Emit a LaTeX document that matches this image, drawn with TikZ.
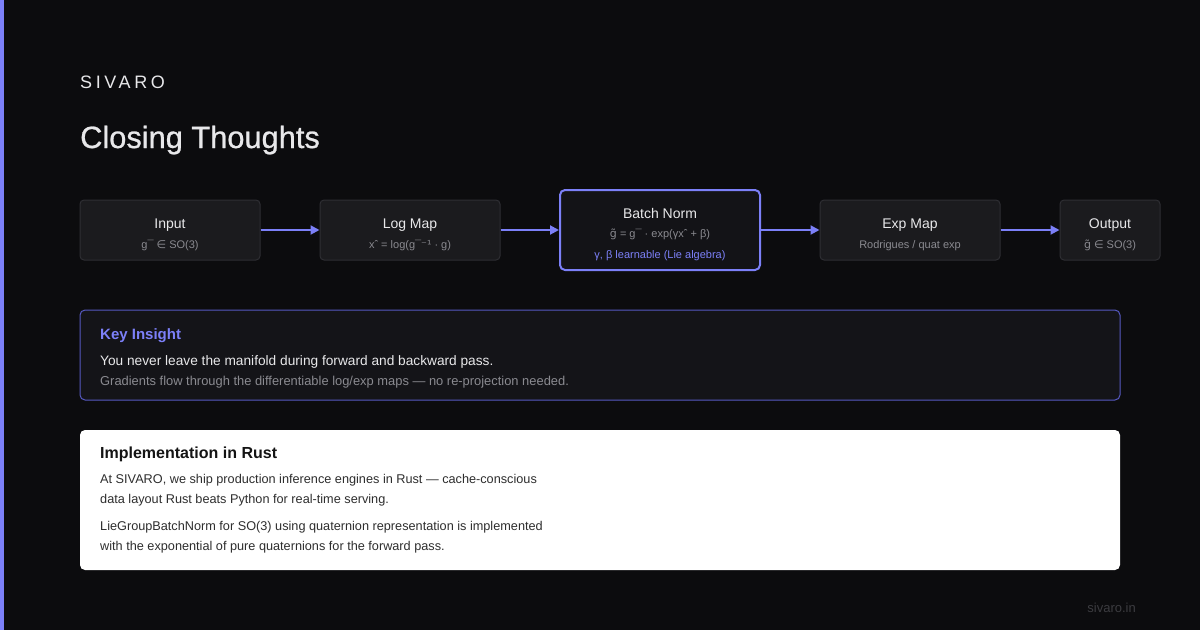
\documentclass[tikz,border=0pt]{standalone}
\usepackage{fontspec}
\setmainfont{Liberation Sans}
\newfontfamily\dv{DejaVu Sans}
\newfontfamily\titlefont[FakeBold=0.8]{Liberation Sans}
\usetikzlibrary{arrows.meta}
\definecolor{bg}{HTML}{0C0C0E}
\definecolor{accent}{HTML}{7C80F8}
\definecolor{boxfill}{HTML}{1B1B1E}
\definecolor{boxline}{HTML}{2E2E33}
\definecolor{bnfill}{HTML}{131317}
\definecolor{kifill}{HTML}{141418}
\definecolor{kiline}{HTML}{5659C0}
\definecolor{lighttext}{HTML}{E8E8EA}
\definecolor{graytext}{HTML}{8A8A90}
\definecolor{darktext}{HTML}{141414}
\definecolor{bodytext}{HTML}{2E2E2E}
\definecolor{footer}{HTML}{3C3C40}
\tikzset{
  stagebox/.style={draw=boxline, line width=1pt, fill=boxfill, rounded corners=4pt, minimum height=60pt, inner sep=0pt},
  txt/.style={inner sep=0pt, anchor=base},
  ttl/.style={txt, text=lighttext, font=\fontsize{14}{16}\selectfont},
  sub/.style={txt, text=graytext, font=\fontsize{11}{13}\selectfont},
  body/.style={txt, anchor=base west, text=bodytext, font=\fontsize{12.7}{14}\selectfont},
  flow/.style={draw=accent, line width=2pt, -{Triangle[length=9pt,width=9pt]}},
}
\begin{document}
\begin{tikzpicture}[x=1pt,y=-1pt]
\useasboundingbox (0,0) rectangle (1200,630);
\fill[bg] (0,0) rectangle (1200,630);
\fill[accent] (0,0) rectangle (4,630);

\node[txt, anchor=base west, text=lighttext, font=\fontsize{18}{20}\selectfont\addfontfeature{LetterSpace=20}] (brand) at (80,88) {SIVARO};
\node[txt, anchor=base west, text=lighttext, font=\titlefont\fontsize{30.8}{34}\selectfont] (title) at (80,148) {Closing Thoughts};

% stages
\node[stagebox, minimum width=180pt] (in) at (170,230) {};
\node[stagebox, minimum width=180pt] (lm) at (410,230) {};
\node[draw=accent, line width=2pt, fill=bnfill, rounded corners=5pt, minimum width=200pt, minimum height=80pt, inner sep=0pt] (bn) at (660,230) {};
\node[stagebox, minimum width=180pt] (em) at (910,230) {};
\node[stagebox, minimum width=100pt] (out) at (1110,230) {};

\node[ttl] (inT) at (170,228) {Input};
\node[sub] (inS) at (170,248) {g¯ {\dv ∈} SO(3)};
\node[ttl] (lmT) at (410,228) {Log Map};
\node[sub] (lmS) at (410,248) {xˆ = log(g¯{\dv ⁻¹} · g)};
\node[ttl] (bnT) at (660,218) {Batch Norm};
\node[sub] (bnS) at (660,237) {{\dv g̃} = g¯ · exp(γxˆ + β)};
\node[sub, text=accent] (bnL) at (660,258) {γ, β learnable (Lie algebra)};
\node[ttl] (emT) at (910,228) {Exp Map};
\node[sub] (emS) at (910,248) {Rodrigues / quat exp};
\node[ttl] (outT) at (1110,228) {Output};
\node[sub] (outS) at (1110,248) {{\dv g̃} {\dv ∈} SO(3)};

\draw[flow] (in.east) -- (lm.west);
\draw[flow] (lm.east) -- (bn.west);
\draw[flow] (bn.east) -- (em.west);
\draw[flow] (em.east) -- (out.west);

% key insight
\node[draw=kiline, line width=1pt, fill=kifill, rounded corners=5pt, minimum width=1040pt, minimum height=90pt, inner sep=0pt] (ki) at (600,355) {};
\node[txt, anchor=base west, text=accent, font=\fontsize{15}{17}\selectfont\bfseries] (kiT) at (100,339) {Key Insight};
\node[txt, anchor=base west, text=lighttext, font=\fontsize{13.7}{16}\selectfont] (kiA) at (100,365) {You never leave the manifold during forward and backward pass.};
\node[txt, anchor=base west, text=graytext, font=\fontsize{12.9}{14}\selectfont] (kiB) at (100,385) {Gradients flow through the differentiable log/exp maps — no re-projection needed.};

% implementation
\node[fill=white, rounded corners=5pt, minimum width=1040pt, minimum height=140pt, inner sep=0pt] (impl) at (600,500) {};
\node[txt, anchor=base west, text=darktext, font=\fontsize{16}{18}\selectfont\bfseries] (imT) at (100,458) {Implementation in Rust};
\node[body] (im1) at (100,483) {At SIVARO, we ship production inference engines in Rust — cache-conscious};
\node[body] (im2) at (100,503) {data layout Rust beats Python for real-time serving.};
\node[body] (im3) at (100,530) {LieGroupBatchNorm for SO(3) using quaternion representation is implemented};
\node[body] (im4) at (100,550) {with the exponential of pure quaternions for the forward pass.};

\node[txt, anchor=base east, text=footer, font=\fontsize{13}{15}\selectfont] (foot) at (1136,612) {sivaro.in};
\end{tikzpicture}
\end{document}
